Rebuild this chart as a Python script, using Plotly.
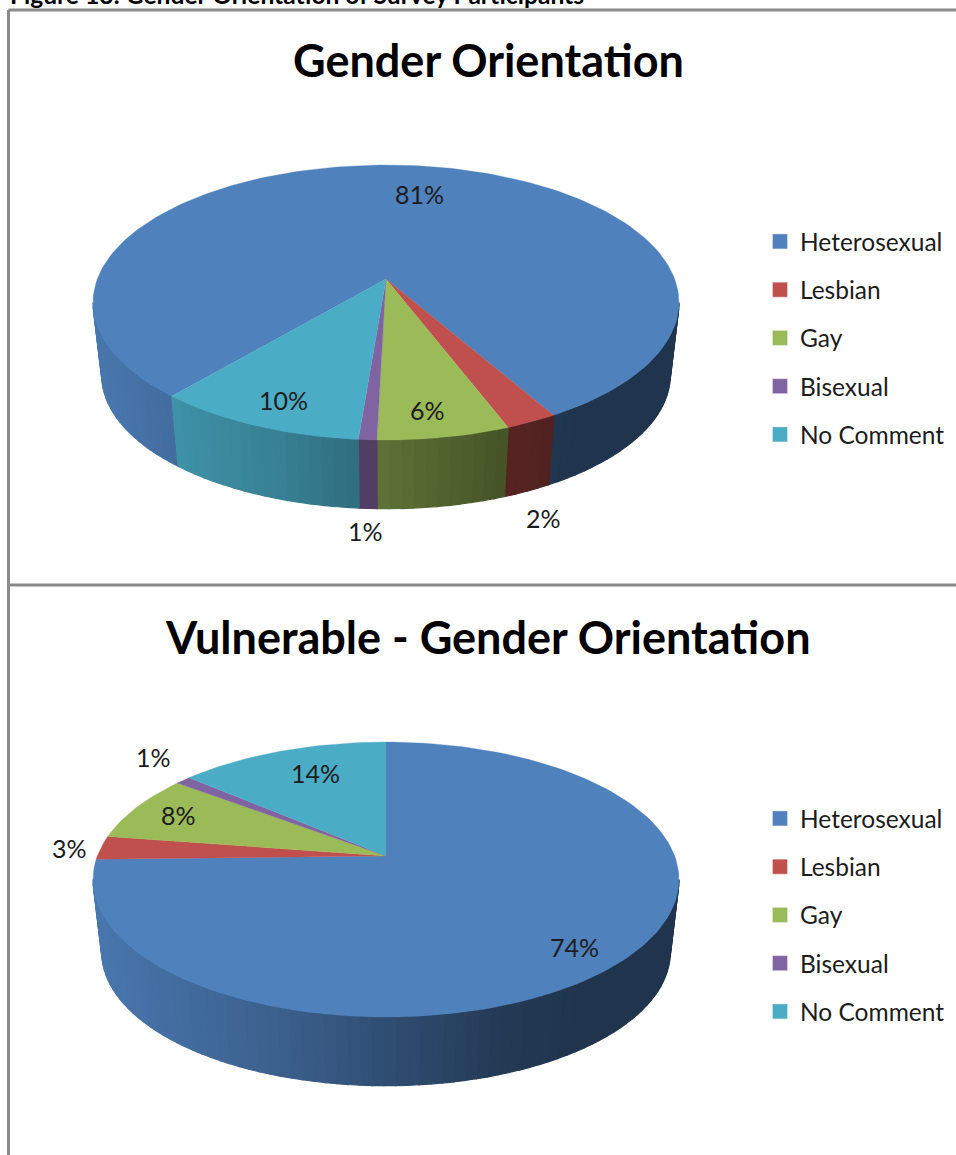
import math
import plotly.graph_objects as go

CATEGORIES = ["Heterosexual", "Lesbian", "Gay", "Bisexual", "No Comment"]
COLORS = ["#4F81BD", "#C0504D", "#9BBB59", "#8064A2", "#4BACC6"]

TITLE_1 = "Gender Orientation"
VALUES_1 = [80.6, 2.45, 6.2, 0.85, 9.9]
LABELS_1 = ["81%", "2%", "6%", "1%", "10%"]
START_1 = 220.2

TITLE_2 = "Vulnerable - Gender Orientation"
VALUES_2 = [74.6, 2.8, 7.9, 1.0, 13.7]
LABELS_2 = ["74%", "3%", "8%", "1%", "14%"]
START_2 = 0.0

HEADER = "Figure 13: Gender Orientation of Survey Participants"

W, H = 956, 1155
SPLIT = 585
FONT = "Lato"

# projection of the tilted disc
CX = 386
A, B, K = 288.7, 133.5, 0.171
S, DROP = 0.97, 73.5
WALL_FROM, WALL_TO = 99.85, 260.15
# label anchors for each panel
LABEL_XY_1 = [(419, 194), (543, 518), (427, 410), (365, 531), (283, 400)]
LABEL_XY_2 = [(574, 947), (69, 848), (178, 815), (153, 757), (315, 773)]

SHADE = [(-1.0, .92), (-.36, .74), (0.0, .60), (.4, .45), (.65, .41), (1.0, .41)]


def project(theta, apex_y, lower=False):
    t = math.radians(theta)
    u, v = math.sin(t), math.cos(t)
    w = 1 + K * v
    scale = S if lower else 1.0
    dy = DROP if lower else 0.0
    return CX + scale * A * u / w, apex_y + dy - scale * B * v / w


def shade(color, fx):
    f = SHADE[-1][1]
    for (x0, f0), (x1, f1) in zip(SHADE, SHADE[1:]):
        if x0 <= fx <= x1:
            f = f0 + (f1 - f0) * (fx - x0) / (x1 - x0)
            break
    r, g, b = (int(color[i:i + 2], 16) for i in (1, 3, 5))
    return f"rgb({r * f:.0f},{g * f:.0f},{b * f:.0f})"


def add_pie(fig, values, labels, start, apex_y, xa, ya, label_xy, legend_name):
    total = sum(values)
    edges = [start]
    for v in values:
        edges.append(edges[-1] + v / total * 360)

    # side wall, one thin strip at a time, visible front part only
    for i, color in enumerate(COLORS):
        a0, a1 = edges[i], edges[i + 1]
        n = max(1, int((a1 - a0) / 2))
        for j in range(n):
            t0 = a0 + (a1 - a0) * j / n
            t1 = a0 + (a1 - a0) * (j + 1) / n
            for off in (-360, 0, 360):
                p0, p1 = max(t0 + off, WALL_FROM), min(t1 + off, WALL_TO)
                if p1 <= p0:
                    continue
                mid = (p0 + p1) / 2
                fx = (project(mid, apex_y)[0] - CX) / 293
                steps = [p0 + (p1 - p0) * q / 4 for q in range(5)]
                top = [project(s, apex_y) for s in steps]
                low = [project(s, apex_y, True) for s in reversed(steps)]
                pts = top + low + top[:1]
                col = shade(color, fx)
                fig.add_trace(go.Scatter(
                    x=[p[0] for p in pts], y=[p[1] for p in pts], xaxis=xa, yaxis=ya,
                    mode="lines", fill="toself", fillcolor=col,
                    line=dict(color=col, width=1.2), hoverinfo="skip", showlegend=False))

    # top surface
    for i, color in enumerate(COLORS):
        a0, a1 = edges[i], edges[i + 1]
        n = max(4, int((a1 - a0) / 1.5))
        arc = [project(a0 + (a1 - a0) * q / n, apex_y) for q in range(n + 1)]
        apex = (CX, apex_y)
        pts = [apex] + arc + [apex]
        fig.add_trace(go.Scatter(
            x=[p[0] for p in pts], y=[p[1] for p in pts], xaxis=xa, yaxis=ya,
            mode="lines", fill="toself", fillcolor=color,
            line=dict(color=color, width=0.3), name=CATEGORIES[i],
            text=f"{CATEGORIES[i]}: {labels[i]}", hoverinfo="text", showlegend=False))

    # legend entries
    for name, color in zip(CATEGORIES, COLORS):
        fig.add_trace(go.Scatter(
            x=[None], y=[None], xaxis=xa, yaxis=ya, mode="markers", name=name,
            marker=dict(symbol="square", size=15, color=color, line=dict(color="#e8e8e8", width=0.5)),
            legend=legend_name, legendgroup=legend_name + name, showlegend=True))

    # data labels
    for (lx, ly), text in zip(label_xy, labels):
        fig.add_annotation(x=lx, y=ly, xref=xa, yref=ya, text=text, showarrow=False,
                           xanchor="center", yanchor="middle",
                           font=dict(family=FONT, size=25, color="#1c1c1c"))


fig = go.Figure()
add_pie(fig, VALUES_1, LABELS_1, START_1, 279, "x", "y", LABEL_XY_1, "legend")
add_pie(fig, VALUES_2, LABELS_2, START_2, 856, "x2", "y2", LABEL_XY_2, "legend2")

axis_off = dict(visible=False, fixedrange=True)
legend_common = dict(font=dict(family=FONT, size=24.5, color="#1c1c1c"), tracegroupgap=13.4,
                     xanchor="left", yanchor="top", bgcolor="rgba(0,0,0,0)", itemwidth=30,
                     itemclick=False, itemdoubleclick=False)


def title(text, y):
    fig.add_annotation(x=488 / W, y=1 - y / H, xref="paper", yref="paper", text=f"<b>{text}</b>",
                       xanchor="center", yanchor="middle",
                       showarrow=False, font=dict(family=FONT, size=45, color="#000000"))


title(TITLE_1, 60)
title(TITLE_2, 637)
fig.add_annotation(x=8 / W, y=1 + 6 / H, xref="paper", yref="paper", xanchor="left", yanchor="middle",
                   text=f"<b>{HEADER}</b>", showarrow=False,
                   font=dict(family=FONT, size=24.6, color="#000000"))

border = dict(color="#8a8a8a", width=3)
for x0, y0, x1, y1 in [(8.5, 10, 8.5, H), (8.5, 10, W, 10), (8.5, SPLIT, W, SPLIT)]:
    fig.add_shape(type="line", xref="paper", yref="paper", x0=x0 / W, x1=x1 / W,
                  y0=1 - y0 / H, y1=1 - y1 / H, line=border, layer="below")

fig.update_layout(
    width=W, height=H, margin=dict(l=0, r=0, t=0, b=0), autosize=False,
    paper_bgcolor="white", plot_bgcolor="white", showlegend=True, hovermode="closest",
    xaxis=dict(axis_off, domain=[0, 1], range=[0, W]),
    yaxis=dict(axis_off, domain=[1 - SPLIT / H, 1], range=[SPLIT, 0]),
    xaxis2=dict(axis_off, domain=[0, 1], range=[0, W]),
    yaxis2=dict(axis_off, domain=[0, 1 - SPLIT / H], range=[H, SPLIT]),
    legend=dict(legend_common, x=760 / W, y=1 - 219 / H),
    legend2=dict(legend_common, x=760 / W, y=1 - 796 / H),
)

fig.write_html("out.html", config={"displayModeBar": False},
               post_script="document.body.style.margin='0';document.body.style.overflow='hidden';")
